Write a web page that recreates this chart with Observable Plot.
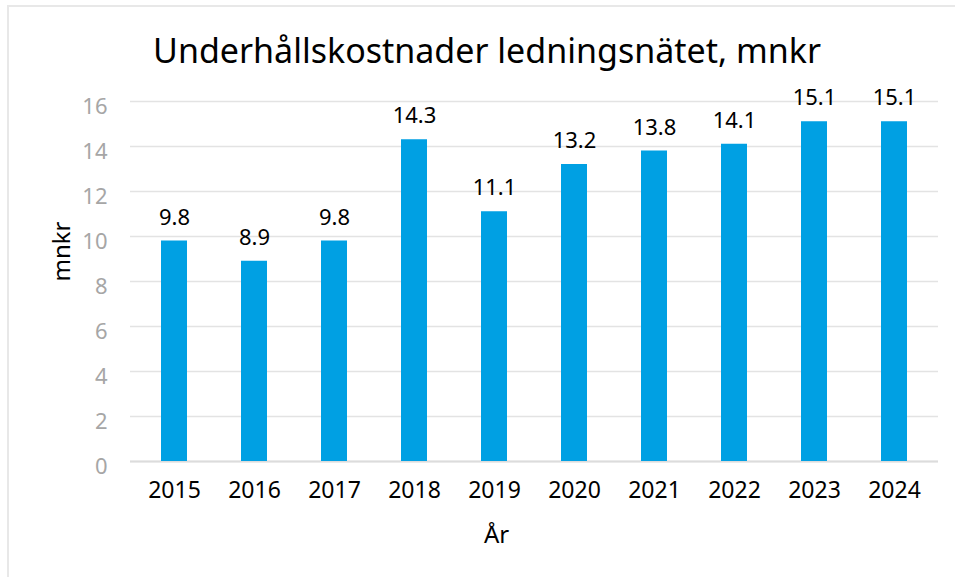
<!DOCTYPE html>
<html>
<head>
<meta charset="utf-8">
<script src="https://cdn.jsdelivr.net/npm/d3@7"></script>
<script src="https://cdn.jsdelivr.net/npm/@observablehq/plot@0.6"></script>
<style>
  body { margin: 0; background: #fff; width: 955px; height: 577px; overflow: hidden; position: relative; }
  #frame { position: absolute; left: 7px; top: 5px; width: 1000px; height: 1000px; border-left: 2px solid #e8e8e8; border-top: 2px solid #e8e8e8; }
  #chart { position: absolute; left: 0; top: 0; width: 955px; }
  #title { box-sizing: border-box; height: 80px; padding-top: 33px; padding-left: 19px; width: 955px; text-align: center;
           font-family: "Noto Sans", sans-serif; font-size: 34px; line-height: 34px; color: #000; white-space: nowrap; }
</style>
</head>
<body>
<div id="frame"></div>
<div id="chart">
  <div id="title">Underhållskostnader ledningsnätet, mnkr</div>
</div>
<script>
const years = ["2015", "2016", "2017", "2018", "2019", "2020", "2021", "2022", "2023", "2024"];
const values = [9.8, 8.9, 9.8, 14.3, 11.1, 13.2, 13.8, 14.1, 15.1, 15.1];
const yTicks = [0, 2, 4, 6, 8, 10, 12, 14, 16];
const xTitle = "År";
const yTitle = "mnkr";

const data = years.map((y, i) => ({year: y, value: values[i]}));

const chart = Plot.plot({
  width: 955,
  height: 497,
  marginTop: 21,
  marginBottom: 116,
  marginLeft: 130,
  marginRight: 17,
  style: {fontFamily: "'Noto Sans', sans-serif", background: "transparent", overflow: "visible"},
  x: {type: "band", domain: years, paddingInner: 0.68, paddingOuter: 0.34, label: null},
  y: {domain: [0, 16], label: null},
  marks: [
    Plot.gridY(yTicks, {stroke: "#e3e3e3", strokeOpacity: 1, strokeWidth: 1.5}),
    Plot.ruleY([0], {stroke: "#dcdcdc", strokeWidth: 2}),
    Plot.barY(data, {x: "year", y: "value", fill: "#00a0e3"}),
    Plot.text(data, {x: "year", y: "value", text: d => d.value.toFixed(1), lineAnchor: "bottom", dy: -16.5, fontSize: 22, fill: "#000"}),
    Plot.axisY(yTicks, {tickSize: 0, tickPadding: 23, fontSize: 22, fill: "#a6a6a6", dy: 5, label: null}),
    Plot.axisX({tickSize: 0, tickPadding: 20, fontSize: 23, fill: "#000", label: null}),
    Plot.text([xTitle], {frameAnchor: "bottom", dx: -38, dy: 81, lineAnchor: "bottom", fontSize: 24, fill: "#000"}),
    Plot.text([yTitle], {frameAnchor: "left", dx: -61, rotate: -90, lineAnchor: "bottom", fontSize: 24, fill: "#000"})
  ]
});
document.getElementById("chart").appendChild(chart);
</script>
</body>
</html>
